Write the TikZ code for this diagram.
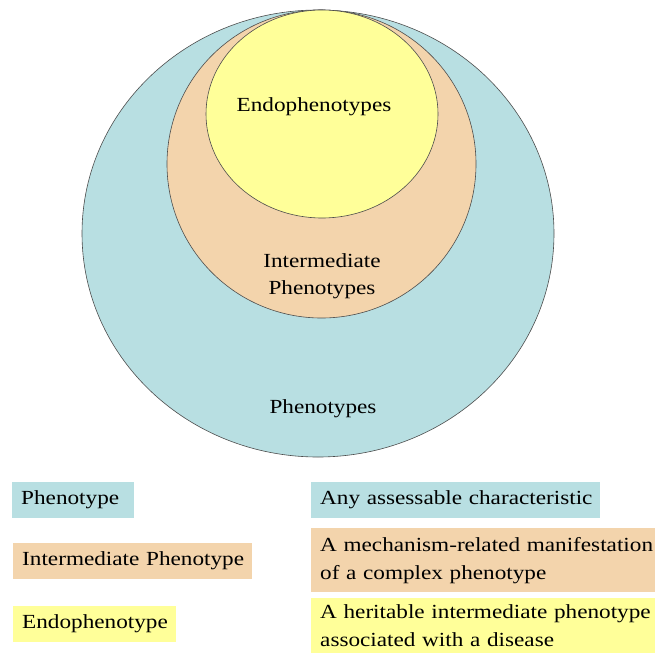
\documentclass[tikz,border=0pt]{standalone}
\usepackage{fontspec}
\setmainfont[FakeStretch=1.16]{Liberation Serif}
\usepackage{tikz}
\usetikzlibrary{positioning}
\definecolor{phencol}{RGB}{184,223,226}
\definecolor{intcol}{RGB}{243,212,172}
\definecolor{endocol}{RGB}{255,255,153}
\tikzset{
  ring/.style={draw=black!70, line width=0.6pt},
  lbl/.style={font=\fontsize{20}{27}\selectfont, align=center, inner sep=0pt},
  legbox/.style={font=\fontsize{20}{28}\selectfont, align=left, anchor=north west,
    inner xsep=9pt, inner ysep=0pt, minimum height=36pt},
  descbox/.style={legbox, text width=350pt}
}
\begin{document}
\begin{tikzpicture}[x=1pt,y=-1pt]
      \useasboundingbox (0,0) rectangle (655,653);
      % nested sets
      \draw[ring, fill=phencol] (318,233.5) ellipse [x radius=236, y radius=223.5];
      \draw[ring, fill=intcol] (321.5,164) ellipse [x radius=154.5, y radius=154];
      \draw[ring, fill=endocol] (322,114) ellipse [x radius=116, y radius=104];
      \node[lbl] (endo) at (314,107) {Endophenotypes};
      \node[lbl] (inter) at (322,276) {Intermediate\\Phenotypes};
      \node[lbl] (phen) at (323,409) {Phenotypes};

      % legend
      \node[legbox, fill=phencol, text width=104pt] (kphen) at (12,482) {\mbox{Phenotype}};
      \node[legbox, fill=intcol, text width=221pt] (kint) at (13,543) {\mbox{Intermediate Phenotype}};
      \node[legbox, fill=endocol, text width=145pt] (kendo) at (13,606) {\mbox{Endophenotype}};
      \node[legbox, fill=phencol, text width=271pt] (dphen) at (311,482) {\mbox{Any assessable characteristic}};
      \node[descbox, fill=intcol, minimum height=64pt] (dint) at (311,528)
        {A mechanism-related manifestation\\of a complex phenotype};
      \node[descbox, fill=endocol, minimum height=55pt] (dendo) at (311,598)
        {A heritable intermediate phenotype\\associated with a disease};
    \end{tikzpicture}
\end{document}
